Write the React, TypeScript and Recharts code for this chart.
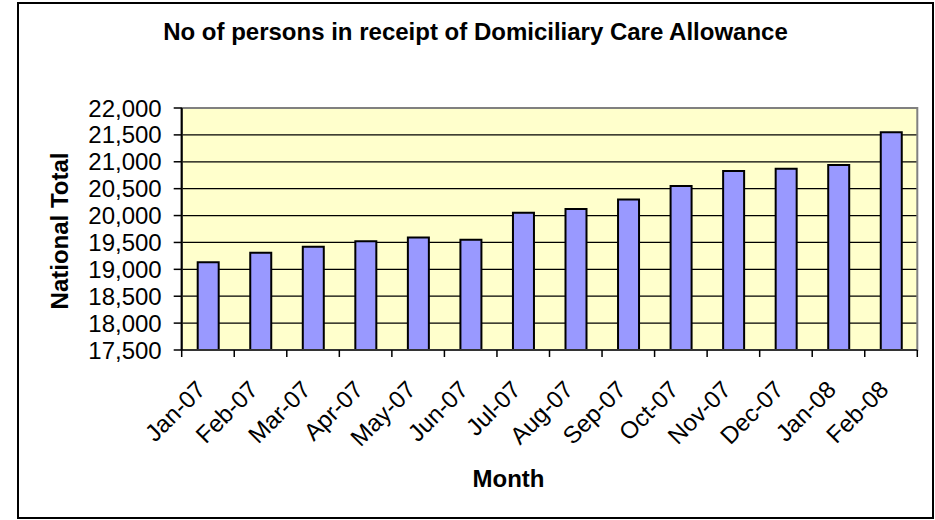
import React from "react";
import { BarChart, Bar, XAxis, YAxis, CartesianGrid, ReferenceArea, Label } from "recharts";

const months = [
  "Jan-07", "Feb-07", "Mar-07", "Apr-07", "May-07", "Jun-07", "Jul-07",
  "Aug-07", "Sep-07", "Oct-07", "Nov-07", "Dec-07", "Jan-08", "Feb-08",
];
const totals = [
  19130, 19310, 19420, 19520, 19590, 19550, 20050,
  20120, 20300, 20550, 20830, 20870, 20940, 21550,
];
const yTicks = [17500, 18000, 18500, 19000, 19500, 20000, 20500, 21000, 21500, 22000];

const data = months.map((m, i) => ({ month: m, total: totals[i] }));

const FONT = "'Liberation Sans', Arial, sans-serif";

const fmt = (v: number) => v.toLocaleString("en-US");

// category label plus Excel-style tick marks on the category boundaries
const MonthTick = (props: any) => {
  const { x, y, payload, index, visibleTicksCount } = props;
  const half = payload.offset || 0;
  const ax = x - 13;
  const ay = y + 29;
  return (
    <g>
      <line x1={x - half} x2={x - half} y1={y} y2={y + 7} stroke="#000" strokeWidth={1.5} />
      {index === visibleTicksCount - 1 && (
        <line x1={x + half} x2={x + half} y1={y} y2={y + 7} stroke="#000" strokeWidth={1.5} />
      )}
      <text
        x={ax}
        y={ay}
        dy="0.71em"
        textAnchor="end"
        transform={`rotate(-45, ${ax}, ${ay})`}
        fontFamily={FONT}
        fontSize={24}
        fill="#000"
      >
        {payload.value}
      </text>
    </g>
  );
};

const YTitle = (props: any) => {
  const { viewBox } = props;
  const cx = viewBox.x + 8;
  const cy = viewBox.y + viewBox.height / 2 + 2;
  return (
    <text
      x={cx}
      y={cy}
      textAnchor="middle"
      dominantBaseline="central"
      transform={`rotate(-90, ${cx}, ${cy})`}
      fontFamily={FONT}
      fontWeight="bold"
      fontSize={24}
      fill="#000"
    >
      National Total
    </text>
  );
};

export default function App() {
  return (
    <div style={{ position: "absolute", left: 0, top: 0, width: 935, height: 520, background: "#fff", fontFamily: FONT }}>
      <div
        style={{
          position: "absolute",
          left: 17,
          top: 2,
          width: 917,
          height: 517,
          boxSizing: "border-box",
          border: "2px solid #000",
          pointerEvents: "none",
        }}
      />
      <div
        style={{
          position: "absolute",
          left: 18,
          width: 915,
          top: 20,
          lineHeight: "24px",
          textAlign: "center",
          fontSize: 24,
          fontWeight: "bold",
          color: "#000",
        }}
      >
        No of persons in receipt of Domiciliary Care Allowance
      </div>
      <BarChart
        width={935}
        height={520}
        data={data}
        margin={{ top: 108, right: 17.7, bottom: 30, left: 51.7 }}
        style={{ position: "absolute", left: 0, top: 0 }}
      >
        <CartesianGrid fill="#FFFFCC" vertical={false} stroke="#000" strokeWidth={1.3} />
        <ReferenceArea y1={17500} y2={22000} fill="none" stroke="#808080" strokeWidth={2} />
        <XAxis
          dataKey="month"
          height={140}
          interval={0}
          tickLine={false}
          tickSize={0}
          tickMargin={0}
          axisLine={{ stroke: "#333", strokeWidth: 2 }}
          tick={<MonthTick />}
        >
          <Label
            value="Month"
            position="insideBottom"
            offset={3}
            dx={-41}
            style={{ fontFamily: FONT, fontSize: 24, fontWeight: "bold", fill: "#000" }}
          />
        </XAxis>
        <YAxis
          width={130}
          domain={[17500, 22000]}
          ticks={yTicks}
          interval={0}
          allowDataOverflow
          tickFormatter={fmt}
          tickSize={8}
          tickMargin={12}
          tickLine={{ stroke: "#000", strokeWidth: 1.5 }}
          axisLine={{ stroke: "#000", strokeWidth: 2 }}
          tick={{ fontFamily: FONT, fontSize: 24, fill: "#000" }}
        >
          <Label content={<YTitle />} />
        </YAxis>
        <Bar
          dataKey="total"
          fill="#9999FF"
          stroke="#000"
          strokeWidth={2}
          barSize={21}
          isAnimationActive={false}
        />
      </BarChart>
    </div>
  );
}
